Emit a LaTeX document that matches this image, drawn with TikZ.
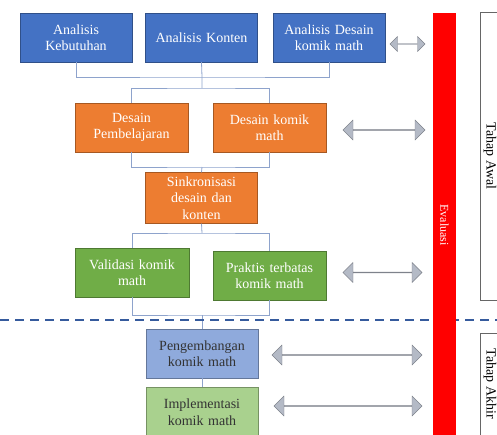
\documentclass[tikz,border=0pt]{standalone}
\usepackage{fontspec}
\setmainfont{Liberation Serif}
\usetikzlibrary{shapes.arrows}

\definecolor{tuaBiru}{HTML}{4472C4}
\definecolor{oranye}{HTML}{ED7D31}
\definecolor{hijau}{HTML}{70AD47}
\definecolor{mudaBiru}{HTML}{8FAADC}
\definecolor{mudaHijau}{HTML}{A9D18E}
\definecolor{garis}{HTML}{8EA3CC}
\definecolor{panah}{HTML}{B4BAC6}

\tikzset{
  kotak/.style={draw=#1!70!black, fill=#1, minimum width=112pt, minimum height=49pt,
    align=center, text width=106pt, inner sep=2pt, font=\fontsize{14}{16.5}\selectfont},
  sambung/.style={draw=garis, line width=0.8pt},
  dobel/.style={double arrow, draw=panah!70!black, fill=panah, inner sep=0pt,
    double arrow head extend=5pt, minimum height=#1, minimum width=20pt}
}

\begin{document}
\begin{tikzpicture}[x=1pt,y=-1pt]
		\useasboundingbox (0,0) rectangle (497,434);
		\clip (0,0) rectangle (497,434);
		
		% tahap awal
		\node[kotak=tuaBiru, text=white] (butuh) at (76,37.5) {Analisis\\Kebutuhan};
		\node[kotak=tuaBiru, text=white] (konten) at (201.5,37.5) {Analisis Konten};
		\node[kotak=tuaBiru, text=white] (desain) at (329,37.5) {Analisis Desain\\komik math};
		
		\node[kotak=oranye, text=white, minimum width=113pt] (ajar) at (131.5,127.5) {Desain\\Pembelajaran};
		\node[kotak=oranye, text=white, minimum width=113pt] (komik) at (269.5,127.5) {Desain komik\\math};
		
		\node[kotak=oranye, text=white, minimum height=51pt, text width=90pt] (sinkron) at (201.5,198) {Sinkronisasi\\desain dan\\konten};
		
		\node[kotak=hijau, text=white, minimum width=114pt] (valid) at (132,272.5) {Validasi komik\\math};
		\node[kotak=hijau, text=white, minimum width=113pt] (praktis) at (269.5,275.5) {Praktis terbatas\\komik math};
		
		% tahap akhir
		\node[kotak=mudaBiru, text=black!80] (kembang) at (202,353.5) {Pengembangan\\komik math};
		\node[kotak=mudaHijau, text=black!80] (terap) at (202,412) {Implementasi\\komik math};
		
		% connectors
		\coordinate (j1) at (202,77);
		\coordinate (j2) at (202,88);
		\coordinate (j3) at (202,167);
		\coordinate (j4) at (202,233);
		\coordinate (j5) at (202,315);
		\draw[sambung] (butuh.south) |- (j1) -| (desain.south);
		\draw[sambung] (konten.south) -- (j1) -- (j2);
		\draw[sambung] (ajar.north) |- (j2) -| (komik.north);
		\draw[sambung] (ajar.south) |- (j3) -| (komik.south);
		\draw[sambung] (j3) -- (sinkron.north);
		\draw[sambung] (sinkron.south) -- (j4);
		\draw[sambung] (valid.north) |- (j4) -| (praktis.north);
		\draw[sambung] (valid.south) |- (j5) -| (praktis.south);
		\draw[sambung] (j5) -- (kembang.north);
		\draw[sambung] (kembang.south) -- (terap.north);
		
		% batas tahap
		\draw[tuaBiru!80!black, line width=1.3pt, dash pattern=on 9pt off 6pt] (0,320) -- (497,320);
		
		% evaluasi
		\fill[red] (433,13) rectangle (456,440);
		\node[rotate=-90, text=white, font=\fontsize{12}{14}\selectfont] (evaluasi) at (444.5,225) {Evaluasi};
		
		% double arrows
		\node[dobel=35pt, minimum width=15pt, double arrow head extend=3pt] (p1) at (407.5,44) {};
		\node[dobel=82pt] (p2) at (384,130) {};
		\node[dobel=79pt] (p3) at (382.5,272.5) {};
		\node[dobel=150pt] (p4) at (347,355) {};
		\node[dobel=148pt] (p5) at (348,406) {};
		
		% tahap labels
		\draw[black!60] (480,12) rectangle (520,300);
		\node[rotate=-90, font=\fontsize{14}{16}\selectfont] (awal) at (490,156) {Tahap Awal};
		\draw[black!60] (480,333) rectangle (520,450);
		\node[rotate=-90, font=\fontsize{14}{16}\selectfont] (akhir) at (490,384) {Tahap Akhir};
	\end{tikzpicture}
\end{document}
